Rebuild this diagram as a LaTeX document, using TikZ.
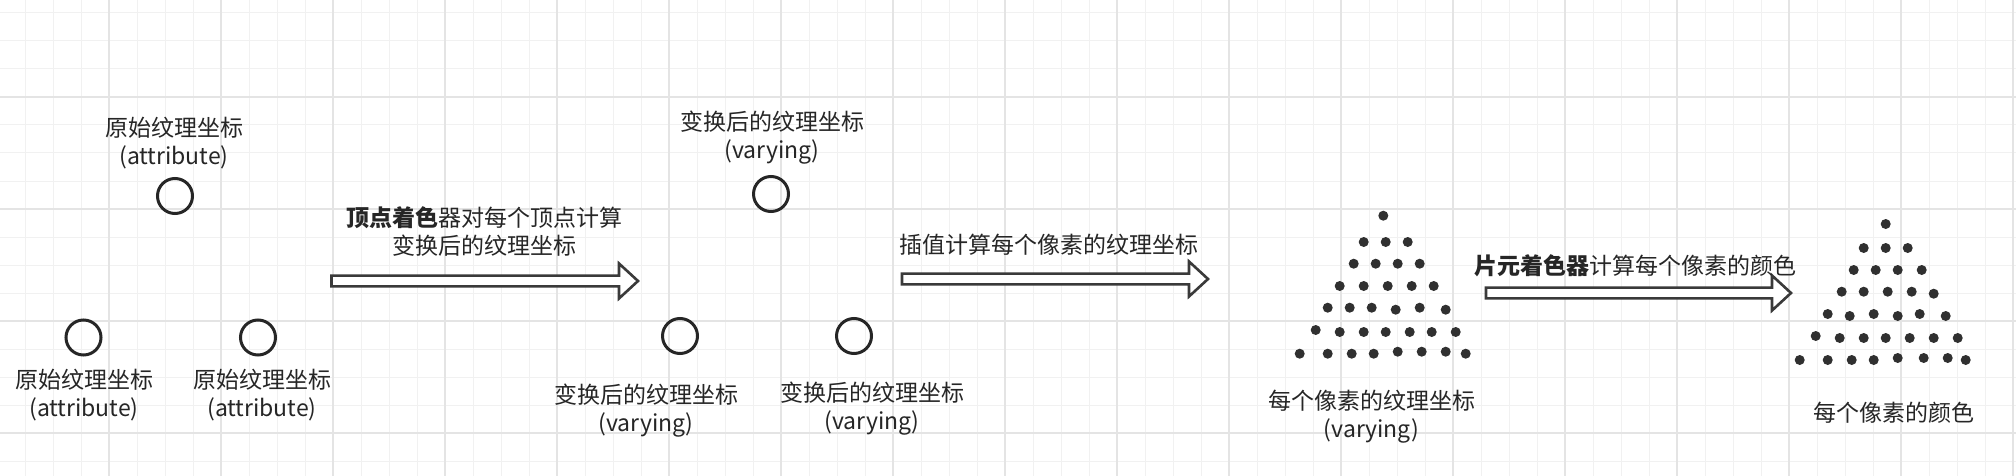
\documentclass[tikz,border=0pt]{standalone}
\usepackage{fontspec}
\setmainfont{Noto Sans CJK SC}
\usetikzlibrary{calc}
\definecolor{gridminor}{RGB}{241,241,241}
\definecolor{gridmajor}{RGB}{228,228,228}
\definecolor{ink}{RGB}{38,38,38}
\definecolor{arrowink}{RGB}{58,58,58}
\definecolor{dotink}{RGB}{48,48,48}
\newcommand{\fatarrow}[2]{%
  \draw[blockarrow] ($(#1)+(0,-5.4)$) -- ($(#2)+(-19,-5.4)$) -- ($(#2)+(-19,-17.5)$)
    -- (#2) -- ($(#2)+(-19,17.5)$) -- ($(#2)+(-19,5.4)$) -- ($(#1)+(0,5.4)$) -- cycle;}
\begin{document}
\begin{tikzpicture}[x=1pt,y=-1pt,
  minorgrid/.style={draw=gridminor, line width=1pt},
  majorgrid/.style={draw=gridmajor, line width=1.3pt},
  vtx/.style={circle, draw=ink, line width=3pt, minimum size=35pt, inner sep=0pt},
  lbl/.style={font=\fontsize{23pt}{28pt}\selectfont, text=ink, align=center, inner sep=0pt},
  pix/.style={fill=dotink},
  blockarrow/.style={draw=arrowink, line width=2.6pt, fill=white, line join=miter}]
\useasboundingbox[fill=white] (0,0) rectangle (2016,476);
% grid
\foreach \x in {25,53,...,2013} \draw[minorgrid] (\x,0) -- (\x,476);
\foreach \y in {13,41,...,461} \draw[minorgrid] (0,\y) -- (2016,\y);
\foreach \x in {109,221,...,2013} \draw[majorgrid] (\x,0) -- (\x,476);
\foreach \y in {97,209,...,433} \draw[majorgrid] (0,\y) -- (2016,\y);

% panel 1: original texture coordinates
\node[vtx] (a1) at (175,196) {};
\node[vtx] (a2) at (83.5,337.5) {};
\node[vtx] (a3) at (258,337.5) {};
\node[lbl] (la1) at (174,143) {原始纹理坐标\\(attribute)};
\node[lbl] (la2) at (84,395) {原始纹理坐标\\(attribute)};
\node[lbl] (la3) at (262,395) {原始纹理坐标\\(attribute)};

% arrow 1
\coordinate (s1) at (331.5,281);
\coordinate (e1) at (638,281);
\fatarrow{s1}{e1}
\node[lbl] (t1) at (484,231.5) {\textbf{顶点着色}器对每个顶点计算\\变换后的纹理坐标};

% panel 2: transformed texture coordinates
\node[vtx] (v1) at (771,194) {};
\node[vtx] (v2) at (680,336) {};
\node[vtx] (v3) at (854,336) {};
\node[lbl] (lv1) at (772,138) {变换后的纹理坐标\\(varying)};
\node[lbl] (lv2) at (646,411) {变换后的纹理坐标\\(varying)};
\node[lbl] (lv3) at (872,409) {变换后的纹理坐标\\(varying)};

% arrow 2
\coordinate (s2) at (902,279);
\coordinate (e2) at (1208,279);
\fatarrow{s2}{e2}
\node[lbl] (t2) at (1049,245) {插值计算每个像素的纹理坐标};

% panel 3: pixels
\foreach \p in {(1383.3,215.7),
  (1363.7,242),(1385.7,242),(1407.7,242),
  (1353.7,263.7),(1375.7,263.7),(1397.7,263.7),(1419.7,263.7),
  (1339.7,286),(1363.7,286),(1387.7,286),(1411.7,286),(1433.7,286),
  (1327.7,307.7),(1349.7,307.7),(1371.7,307.7),(1395.7,309.7),(1419.7,307.7),(1445.7,309.7),
  (1315.7,330),(1339.7,332),(1363.7,332),(1385.7,332),(1409.7,332),(1431.7,332),(1455.7,332),
  (1299.7,353.7),(1327.7,353.7),(1351.7,353.7),(1373.7,353.7),(1397.7,351.7),(1421.7,351.7),(1445.7,351.7),(1465.7,353.7)}
  \fill[pix] \p circle[radius=5];
\node[lbl] (lp) at (1371.5,417) {每个像素的纹理坐标\\(varying)};

% arrow 3
\coordinate (s3) at (1486,293);
\coordinate (e3) at (1791,293);
\fatarrow{s3}{e3}
\node[lbl] (t3) at (1635,266) {\textbf{片元着色器}计算每个像素的颜色};

% panel 4: colours
\foreach \p in {(1885.7,224),
  (1863.7,248),(1885.7,248),(1907.7,248),
  (1853.7,270),(1875.7,270),(1897.7,270),(1921.7,270),
  (1841.7,291.7),(1863.7,291.7),(1887.7,291.7),(1911.7,291.7),(1933.7,293.7),
  (1827.7,314),(1849.7,316),(1873.7,314),(1897.7,316),(1919.7,314),(1945.7,316),
  (1815.7,336),(1839.7,338),(1863.7,338),(1885.7,338),(1909.7,338),(1933.7,338),(1957.7,338),
  (1799.7,360),(1827.7,360),(1851.7,360),(1873.7,360),(1897.7,358),(1923.7,358),(1947.7,358),(1965.7,360)}
  \fill[pix] \p circle[radius=5];
\node[lbl] (lc) at (1893.5,413) {每个像素的颜色};
\end{tikzpicture}
\end{document}
